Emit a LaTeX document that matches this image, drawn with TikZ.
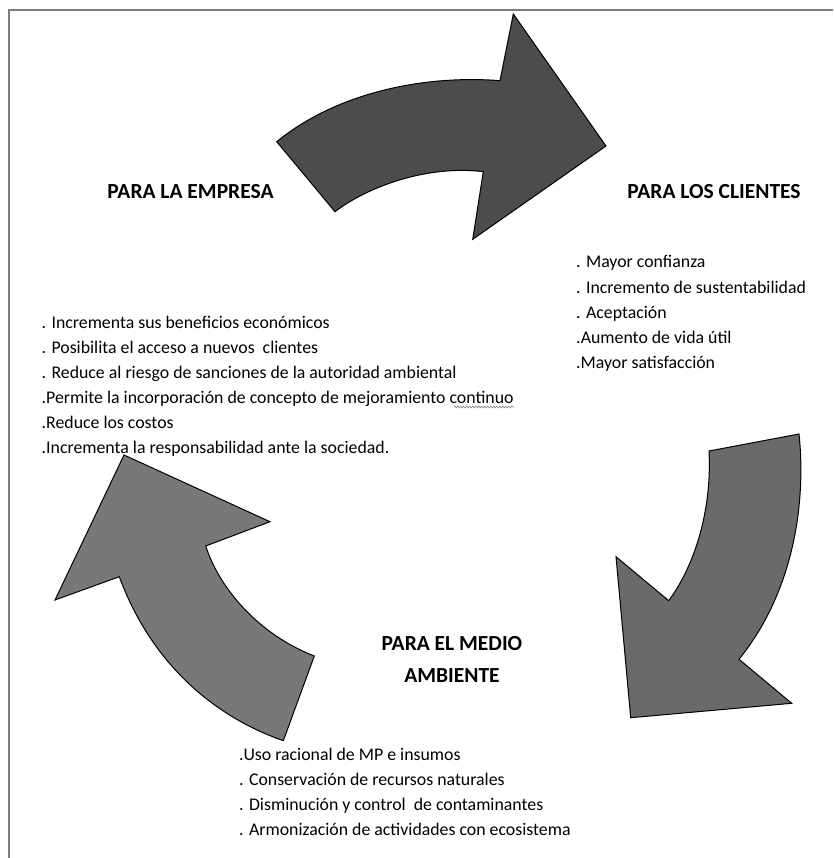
\documentclass[tikz,border=0pt]{standalone}
\usepackage{fontspec}
\setmainfont{Carlito}
\usepackage{tikz}
\definecolor{Flch}{RGB}{76,76,76}
\definecolor{Flch1}{RGB}{106,106,106}
\definecolor{Flch2}{RGB}{120,120,120}
\definecolor{Mrco}{RGB}{125,125,125}
\usetikzlibrary{decorations.pathmorphing}
\tikzset{
  flecha/.style={draw=black, line width=1pt, line join=miter},
  titulo/.style={inner sep=0pt, font=\fontsize{21.5}{32}\selectfont\bfseries, align=center},
  item/.style={inner sep=0pt, anchor=base west, font=\fontsize{17.8}{25}\selectfont},
  squiggle/.style={draw=gray, line width=0.6pt,
                   decorate, decoration={snake, amplitude=0.9pt, segment length=3pt}}
}

\begin{document}
\begin{tikzpicture}[x=1pt, y=-1pt]
    \useasboundingbox (0,0) rectangle (833,858);
    \draw[Mrco, line width=2pt] (8.5,858) -- (8.5,10) -- (833,10);

    % flechas
    \fill[flecha, fill=Flch] (276.7,141.7) .. controls (340,90) and (430,75) .. (500,80.7)
        -- (513.3,14) -- (606,146) -- (472.7,239.3) -- (483.3,171.7)
        .. controls (430,165) and (370,185) .. (335,211.7) -- cycle;
    \fill[flecha, fill=Flch1] (709,451) -- (799,434)
        .. controls (806,500) and (795,590) .. (739,659.3)
        -- (791.7,703.3) -- (630.7,717.7) -- (616,556.7) -- (668.7,600.7)
        .. controls (695,565) and (712,510) .. (709,451) -- cycle;
    \fill[flecha, fill=Flch2] (124,455) -- (270,521.7) -- (205.7,546)
        .. controls (220,590) and (260,635) .. (314.3,656) -- (283.3,740.7)
        .. controls (210,715) and (150,660) .. (119.3,576.7) -- (55,600) -- cycle;

    % titulos
    \node[titulo] (empresa) at (190.5,192) {PARA LA EMPRESA};
    \node[titulo] (clientes) at (714,192) {PARA LOS CLIENTES};
    \node[titulo] (medio) at (452,659) {PARA EL MEDIO\\AMBIENTE};

    % listas
    \foreach \txt [count=\i] in {. Mayor confianza, . Incremento de sustentabilidad,
        . Aceptación, .Aumento de vida útil, .Mayor satisfacción}
        \node[item] (cli\i) at (576,268+25*\i-25) {\txt};
    \foreach \txt [count=\i] in {. Incrementa sus beneficios económicos,
        . Posibilita el acceso a nuevos\ \ clientes,
        . Reduce al riesgo de sanciones de la autoridad ambiental,
        .Permite la incorporación de concepto de mejoramiento continuo,
        .Reduce los costos, .Incrementa la responsabilidad ante la sociedad.}
        \node[item] (emp\i) at (41.5,328+25*\i-25) {\txt};
    \foreach \txt [count=\i] in {.Uso racional de MP e insumos,
        . Conservación de recursos naturales,
        . Disminución y control\ \ de contaminantes,
        . Armonización de actividades con ecosistema}
        \node[item] (amb\i) at (239,760+25*\i-25) {\txt};
    \draw[squiggle] ([xshift=-60pt, yshift=-4pt]emp4.base east) -- ([yshift=-4pt]emp4.base east);
\end{tikzpicture}
\end{document}
